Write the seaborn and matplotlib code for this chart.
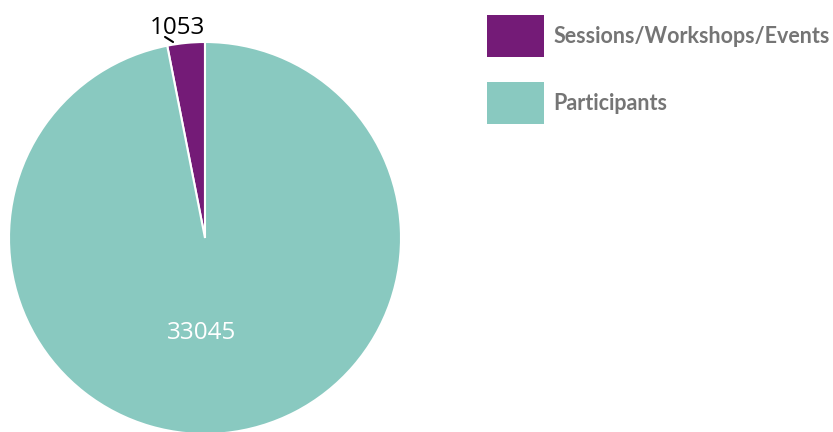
import numpy as np
import matplotlib.pyplot as plt
import seaborn as sns

labels = ['Sessions/Workshops/Events', 'Participants']
values = [1053, 33045]
colors = ['#741b77', '#89c9c0']

sns.set_theme(style='white')
plt.rcParams['font.family'] = ['Open Sans', 'DejaVu Sans']

W, H = 833, 432
fig = plt.figure(figsize=(W / 100, H / 100), dpi=100)
# pie centre ~ (205, 238), radius ~196 px
cx, cy, r = 205, 238, 196
ax = fig.add_axes([(cx - r) / W, (H - cy - r) / H, 2 * r / W, 2 * r / H])

total = sum(values)
wedges, texts, autotexts = ax.pie(
    values, colors=colors, startangle=90, counterclock=True,
    autopct=lambda p: f'{p * total / 100:.0f}', pctdistance=0.49,
    wedgeprops=dict(edgecolor='white', linewidth=1.5),
    textprops=dict(color='white', fontsize=17.5),
)
ax.set_xlim(-1, 1)
ax.set_ylim(-1, 1)
ax.set_aspect('equal')
autotexts[1].set_position((-0.02, -0.485))

# small slice: label outside with a short leader tick
autotexts[0].set_position((-0.14, 1.07))
autotexts[0].set_color('black')
autotexts[0].set_clip_on(False)
ax.plot([-0.204, -0.163], [1.026, 1.0], color='black', lw=1.5, clip_on=False)

fs = 15.5
leg = fig.legend(wedges, labels, loc='upper left', bbox_to_anchor=(487 / W, 1 - 15 / H),
                 frameon=False, handlelength=2.65, handleheight=2.64,
                 labelspacing=1.15, handletextpad=0.45, borderaxespad=0, borderpad=0,
                 prop=dict(family='Lato', weight='bold', size=fs))
for t in leg.get_texts():
    t.set_color('#757575')
for h in leg.legend_handles:
    h.set_edgecolor('none')

fig.savefig('out.png', dpi=100)
